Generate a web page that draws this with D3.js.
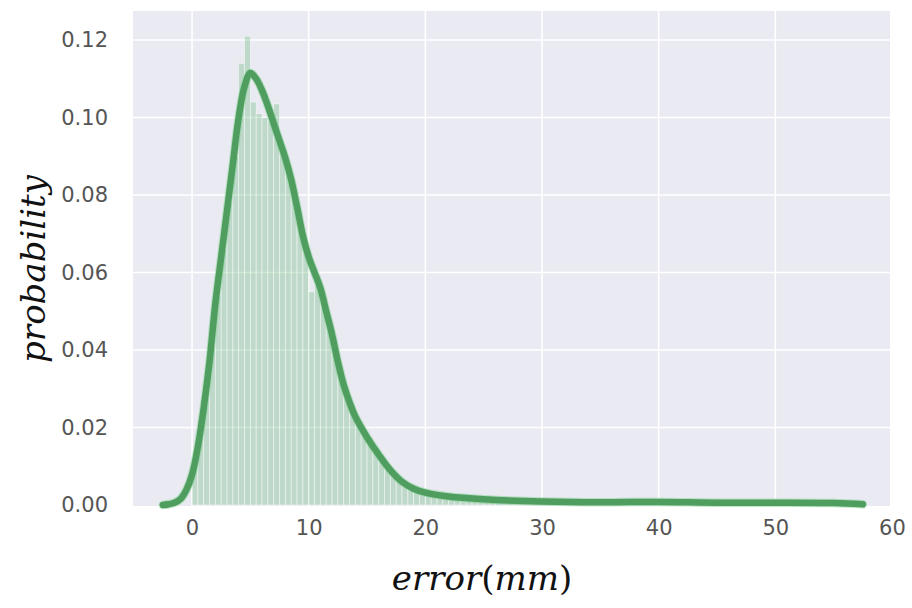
<!DOCTYPE html>
<html>
<head>
<meta charset="utf-8">
<script src="https://cdn.jsdelivr.net/npm/d3@7"></script>
<style>
  html, body { margin: 0; padding: 0; background: #ffffff; }
  svg { display: block; }
</style>
</head>
<body>
<svg id="chart" width="912" height="608"></svg>
<script>
// ---- data ----
const xTicks = [0, 10, 20, 30, 40, 50, 60];
const yTicks = [0.00, 0.02, 0.04, 0.06, 0.08, 0.10, 0.12];
const xDomain = [-5.06, 59.83];
const yDomain = [0, 0.1275];

// histogram: bins of width 0.5 starting at 0
const binStart = 0;
const binWidth = 0.5;
const histValues = [
  0.010, 0.018, 0.029, 0.041, 0.054, 0.066, 0.078, 0.090, 0.114, 0.121,
  0.104, 0.101, 0.100, 0.099, 0.1035, 0.091, 0.087, 0.081, 0.074, 0.067,
  0.055, 0.058, 0.053, 0.047, 0.041, 0.035, 0.030, 0.026, 0.022, 0.019,
  0.017, 0.014, 0.012, 0.010, 0.0085, 0.0070, 0.0055, 0.0045, 0.0040, 0.0035,
  0.0030, 0.0028, 0.0025, 0.0023, 0.0021, 0.0019, 0.0018, 0.0016, 0.0015, 0.0014,
  0.0013, 0.0012, 0.0011, 0.0010, 0.0010, 0.0009, 0.0009, 0.0008, 0.0008, 0.0007,
  0.0008, 0.0007, 0.0006, 0.0007, 0.0006, 0.0006, 0.0005, 0.0006, 0.0007, 0.0008,
  0.0009, 0.0008, 0.0007, 0.0006, 0.0006, 0.0005, 0.0006, 0.0005, 0.0005, 0.0006,
  0.0006, 0.0005, 0.0004, 0.0005, 0.0005, 0.0004, 0.0005, 0.0006, 0.0005, 0.0004,
  0.0005, 0.0004, 0.0004, 0.0005, 0.0004, 0.0004, 0.0003, 0.0004, 0.0004, 0.0003,
  0.0004, 0.0003, 0.0003, 0.0004, 0.0003, 0.0003, 0.0003, 0.0002, 0.0003, 0.0002,
  0.0002, 0.0002, 0.0002, 0.0002
];

// KDE curve points
const kdeX = [-2.5, -2.0, -1.5, -1.0, -0.5, 0.0, 0.5, 1.0, 1.5, 2.0, 2.5,
  3.0, 3.5, 4.0, 4.5, 5.0, 5.5, 6.0, 6.5, 7.0, 7.5,
  8.0, 8.5, 9.0, 9.5, 10.0, 10.5, 11.0, 11.5, 12.0, 12.5,
  13.0, 13.5, 14.0, 15.0, 16.0, 17.0, 18.0, 19.0, 20.0, 22.0,
  25.0, 30.0, 35.0, 40.0, 45.0, 50.0, 55.0, 57.5];
const kdeY = [0.0000, 0.0002, 0.0006, 0.0015, 0.0038, 0.0078, 0.0150, 0.0250, 0.0370, 0.0520, 0.0640,
  0.0760, 0.0880, 0.1000, 0.1080, 0.1115, 0.1100, 0.1070, 0.1030, 0.0985, 0.0940,
  0.0895, 0.0840, 0.0770, 0.0695, 0.0640, 0.0600, 0.0560, 0.0500, 0.0440, 0.0370,
  0.0310, 0.0265, 0.0228, 0.0175, 0.0130, 0.0090, 0.0060, 0.0042, 0.0032, 0.0022,
  0.0015, 0.0009, 0.0007, 0.0008, 0.0006, 0.0006, 0.0005, 0.0002];

const xLabel = ["error", "(", "mm", ")"];
const yLabel = "probability";

// ---- drawing ----
const svg = d3.select("#chart");
const plot = { left: 133, right: 890, top: 11, bottom: 506 };

const x = d3.scaleLinear().domain(xDomain).range([plot.left, plot.right]);
const y = d3.scaleLinear().domain(yDomain).range([505, plot.top]);

svg.append("rect")
  .attr("x", plot.left).attr("y", plot.top)
  .attr("width", plot.right - plot.left).attr("height", plot.bottom - plot.top)
  .attr("fill", "#eaeaf2");

// grid
const gridG = svg.append("g");
gridG.selectAll("line.v").data(xTicks.filter(t => x(t) < plot.right - 1)).enter()
  .append("line")
  .attr("x1", d => x(d)).attr("x2", d => x(d))
  .attr("y1", plot.top).attr("y2", plot.bottom)
  .attr("stroke", "#ffffff").attr("stroke-width", 1.6);
gridG.selectAll("line.h").data(yTicks.filter(t => t > 0)).enter()
  .append("line")
  .attr("x1", plot.left).attr("x2", plot.right)
  .attr("y1", d => y(d)).attr("y2", d => y(d))
  .attr("stroke", "#ffffff").attr("stroke-width", 1.6);

// histogram bars
const bins = histValues.map((v, i) => ({ x0: binStart + i * binWidth, x1: binStart + (i + 1) * binWidth, v }));
svg.append("g").selectAll("rect").data(bins).enter()
  .append("rect")
  .attr("x", d => x(d.x0))
  .attr("width", d => x(d.x1) - x(d.x0))
  .attr("y", d => y(d.v))
  .attr("height", d => y(0) - y(d.v))
  .attr("fill", "#5aae6c").attr("fill-opacity", 0.3)
  .attr("stroke", "#ffffff").attr("stroke-opacity", 0.55).attr("stroke-width", 0.8);

// KDE line
const kde = kdeX.map((v, i) => [v, kdeY[i]]);
const line = d3.line().x(d => x(d[0])).y(d => y(d[1])).curve(d3.curveCatmullRom.alpha(0.5));
svg.append("path").datum(kde)
  .attr("d", line)
  .attr("fill", "none")
  .attr("stroke", "#7fd08f").attr("stroke-width", 8.5).attr("stroke-opacity", 0.5)
  .attr("stroke-linejoin", "round").attr("stroke-linecap", "round");
svg.append("path").datum(kde)
  .attr("d", line)
  .attr("fill", "none")
  .attr("stroke", "#4f9e60").attr("stroke-width", 6.5)
  .attr("stroke-linejoin", "round").attr("stroke-linecap", "round");

// axes (tick labels only, seaborn style)
const yAxis = d3.axisLeft(y).tickValues(yTicks).tickFormat(d3.format(".2f")).tickSize(0).tickPadding(25);
const yG = svg.append("g").attr("transform", `translate(${plot.left},0)`).call(yAxis);
yG.select(".domain").remove();
yG.selectAll("text")
  .attr("font-family", "DejaVu Sans, sans-serif").attr("font-size", 21)
  .attr("fill", "#555555");

const xAxis = d3.axisBottom(x).tickValues(xTicks).tickFormat(d3.format("d")).tickSize(0).tickPadding(14);
const xG = svg.append("g").attr("transform", `translate(0,${plot.bottom})`).call(xAxis);
xG.select(".domain").remove();
xG.selectAll("text")
  .attr("font-family", "DejaVu Sans, sans-serif").attr("font-size", 21)
  .attr("fill", "#555555");

// axis labels
const xl = svg.append("text")
  .attr("x", 482).attr("y", 590)
  .attr("text-anchor", "middle")
  .attr("font-family", "DejaVu Serif, serif").attr("font-size", 34)
  .attr("fill", "#111111");
xLabel.forEach(s => {
  xl.append("tspan").text(s)
    .attr("font-style", (s === "(" || s === ")") ? "normal" : "italic");
});

svg.append("text")
  .attr("transform", "translate(45,269) rotate(-90)")
  .attr("text-anchor", "middle")
  .attr("font-family", "DejaVu Serif, serif").attr("font-size", 34)
  .attr("font-style", "italic")
  .attr("fill", "#111111")
  .text(yLabel);
</script>
</body>
</html>
